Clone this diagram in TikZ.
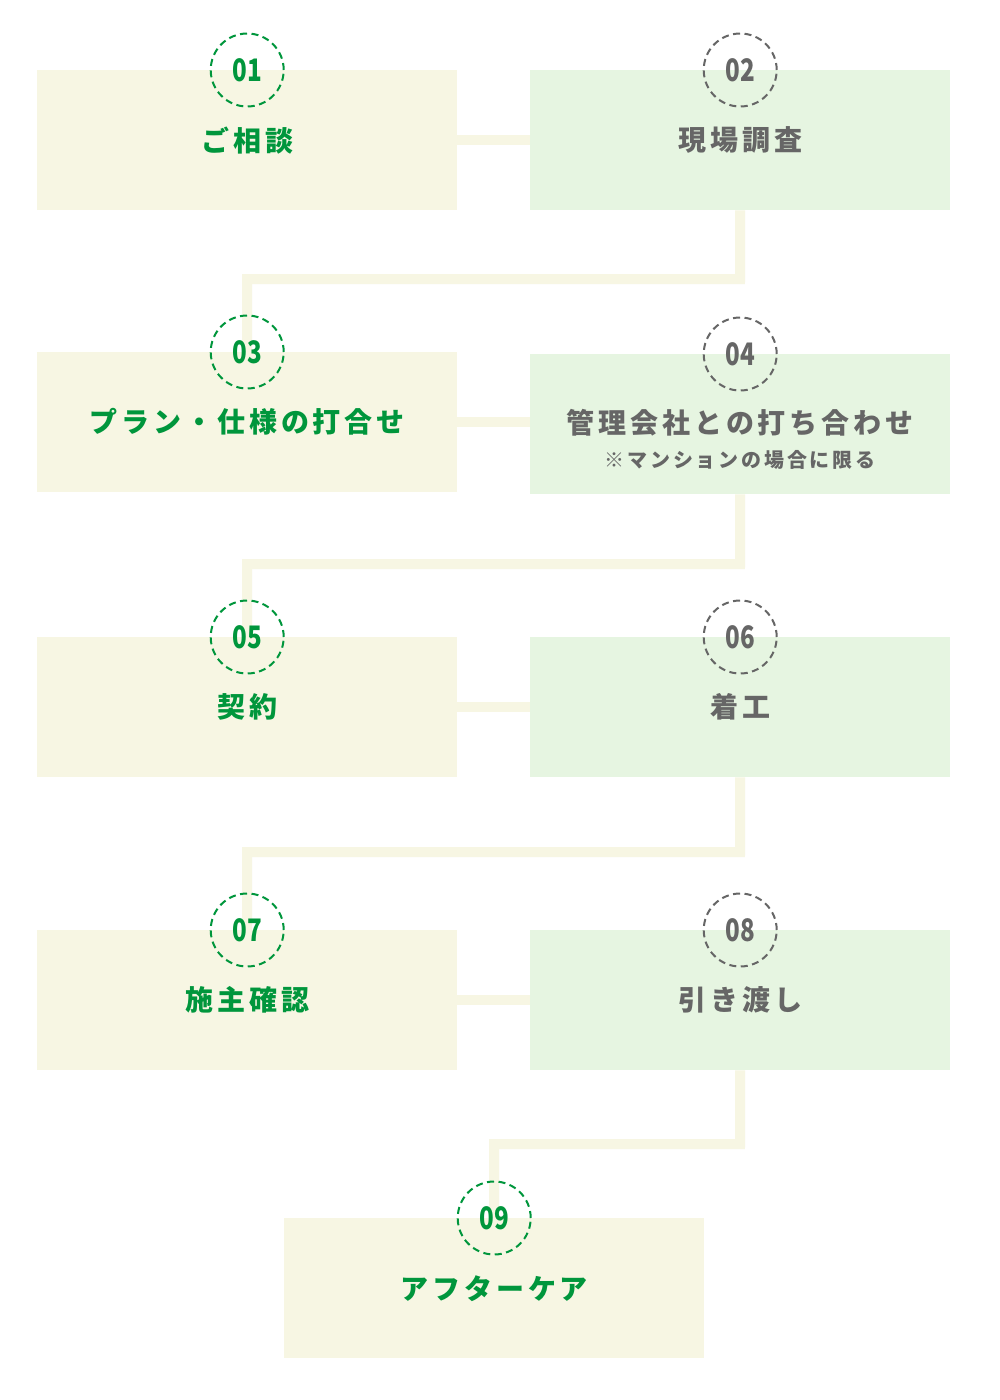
\documentclass[tikz,border=0pt]{standalone}
\usepackage{fontspec}
\newfontfamily\jp[LetterSpace=14]{Noto Sans CJK JP}
\newfontfamily\jpsub[LetterSpace=14]{Noto Sans CJK JP}
\newfontfamily\num{Noto Sans CJK JP}
\definecolor{cream}{HTML}{F7F6E3}
\definecolor{mint}{HTML}{E6F5E1}
\definecolor{grn}{HTML}{00963C}
\definecolor{gry}{HTML}{666666}
\begin{document}
\begin{tikzpicture}[x=1pt,y=-1pt,
  boxc/.style={fill=cream,draw=none,minimum width=420pt,minimum height=140pt,inner sep=0pt,anchor=north west},
  boxg/.style={fill=mint,draw=none,minimum width=420pt,minimum height=140pt,inner sep=0pt,anchor=north west},
  link/.style={draw=cream,line width=10pt,line join=miter},
  ring/.style={circle,minimum size=73pt,inner sep=0pt,line width=2pt,dash pattern=on 7pt off 4.5pt},
  ringg/.style={ring,draw=grn},
  ringy/.style={ring,draw=gry},
  numg/.style={text=grn,font=\num\bfseries\fontsize{31}{31}\selectfont,inner sep=0pt},
  numy/.style={text=gry,font=\num\bfseries\fontsize{31}{31}\selectfont,inner sep=0pt},
  ttlg/.style={text=grn,font=\jp\bfseries\fontsize{28}{28}\selectfont,inner sep=0pt},
  ttly/.style={text=gry,font=\jp\bfseries\fontsize{28}{28}\selectfont,inner sep=0pt},
  subt/.style={text=gry,font=\jpsub\bfseries\fontsize{20}{20}\selectfont,inner sep=0pt}]
\useasboundingbox[fill=white] (0,0) rectangle (1000,1400);
% joints of the connectors
\coordinate (j1) at (740,279);
\coordinate (j2) at (740,564);
\coordinate (j3) at (740,852);
\coordinate (j4) at (740,1144);
% box positions
\path (37,70) coordinate (p1) (530,70) coordinate (p2)
      (37,352) coordinate (p3) (530,354) coordinate (p4)
      (37,637) coordinate (p5) (530,637) coordinate (p6)
      (37,930) coordinate (p7) (530,930) coordinate (p8)
      (284,1218) coordinate (p9);
\node[boxc] (b1) at (p1) {};
\node[boxg] (b2) at (p2) {};
\node[boxc] (b3) at (p3) {};
\node[boxg] (b4) at (p4) {};
\node[boxc] (b5) at (p5) {};
\node[boxg] (b6) at (p6) {};
\node[boxc] (b7) at (p7) {};
\node[boxg] (b8) at (p8) {};
\node[boxc] (b9) at (p9) {};
% connectors
\draw[link] (b1.east) -- (b1.east -| b2.west);
\draw[link] (b3.east) -- (b3.east -| b4.west);
\draw[link] (b5.east) -- (b5.east -| b6.west);
\draw[link] (b7.east) -- (b7.east -| b8.west);
\draw[link] (b2.south) -- (j1) -| (b3.north);
\draw[link] (b4.south) -- (j2) -| (b5.north);
\draw[link] (b6.south) -- (j3) -| (b7.north);
\draw[link] (b8.south) -- (j4) -| (b9.north);
% rings
\node[ringg] (r1) at (b1.north) {};
\node[ringy] (r2) at (b2.north) {};
\node[ringg] (r3) at (b3.north) {};
\node[ringy] (r4) at (b4.north) {};
\node[ringg] (r5) at (b5.north) {};
\node[ringy] (r6) at (b6.north) {};
\node[ringg] (r7) at (b7.north) {};
\node[ringy] (r8) at (b8.north) {};
\node[ringg] (r9) at (b9.north) {};
\node[numg] (n1) at (r1.center) {\scalebox{0.78}[1]{01}};
\node[numy] (n2) at (r2.center) {\scalebox{0.78}[1]{02}};
\node[numg] (n3) at (r3.center) {\scalebox{0.78}[1]{03}};
\node[numy] (n4) at (r4.center) {\scalebox{0.78}[1]{04}};
\node[numg] (n5) at (r5.center) {\scalebox{0.78}[1]{05}};
\node[numy] (n6) at (r6.center) {\scalebox{0.78}[1]{06}};
\node[numg] (n7) at (r7.center) {\scalebox{0.78}[1]{07}};
\node[numy] (n8) at (r8.center) {\scalebox{0.78}[1]{08}};
\node[numg] (n9) at (r9.center) {\scalebox{0.78}[1]{09}};
% titles
\node[ttlg] (t1) at (b1.center) {ご相談};
\node[ttly] (t2) at (b2.center) {現場調査};
\node[ttlg] (t3) at (b3.center) {プラン・仕様の打合せ};
\node[ttly] (t4) at ([yshift=1pt]b4.center) {管理会社との打ち合わせ};
\node[subt] (s4) at ([yshift=-36pt]b4.center) {※マンションの場合に限る};
\node[ttlg] (t5) at (b5.center) {契約};
\node[ttly] (t6) at (b6.center) {着工};
\node[ttlg] (t7) at (b7.center) {施主確認};
\node[ttly] (t8) at (b8.center) {引き渡し};
\node[ttlg] (t9) at (b9.center) {アフターケア};
\end{tikzpicture}
\end{document}
